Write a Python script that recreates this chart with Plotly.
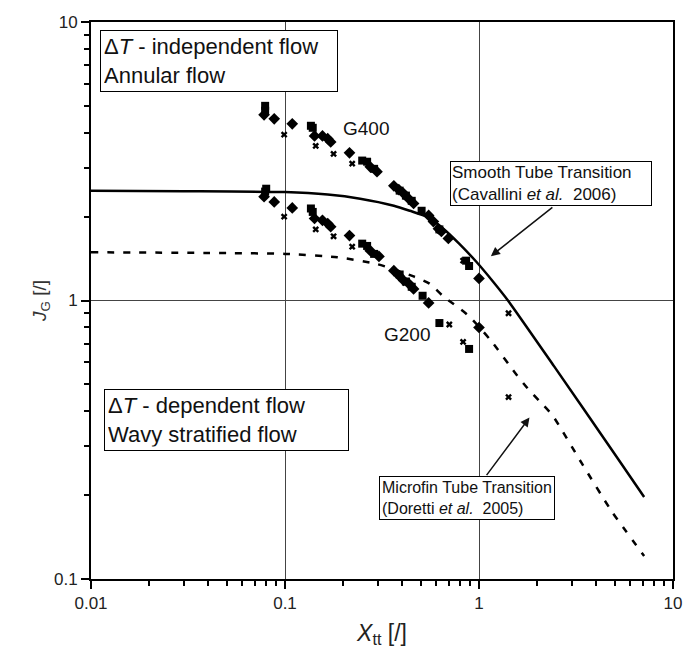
import plotly.graph_objects as go

# ---- data ----
smooth_x = [0.01, 0.03, 0.1, 0.166, 0.244, 0.364, 0.44, 0.537, 0.655, 0.79, 0.966, 1.18, 1.41, 2.44, 5.17, 7.1]
smooth_y = [2.48, 2.47, 2.45, 2.40, 2.32, 2.19, 2.10, 2.0, 1.81, 1.60, 1.38, 1.17, 1.0, 0.58, 0.272, 0.197]

microfin_x = [0.01, 0.05, 0.1, 0.186, 0.30, 0.46, 0.556, 0.65, 0.879, 1.15, 1.54, 1.78, 2.05, 2.39, 3.39, 4.83, 7.1]
microfin_y = [1.49, 1.48, 1.47, 1.43, 1.35, 1.22, 1.15, 1.04, 0.884, 0.719, 0.548, 0.484, 0.435, 0.387, 0.26, 0.175, 0.121]

g400_sq_x = [0.079, 0.079, 0.136, 0.139, 0.25, 0.265, 0.288, 0.39, 0.42, 0.45, 0.506, 0.625, 0.858, 0.889]
g400_sq_y = [5.0, 4.8, 4.24, 4.17, 3.18, 3.15, 2.97, 2.48, 2.38, 2.28, 2.10, 1.80, 1.39, 1.33]
g400_di_x = [0.078, 0.088, 0.109, 0.142, 0.156, 0.166, 0.172, 0.215, 0.275, 0.298, 0.364, 0.386, 0.409, 0.434, 0.46, 0.55, 0.582, 0.618, 0.64, 0.695, 1.0]
g400_di_y = [4.64, 4.49, 4.31, 3.90, 3.90, 3.81, 3.71, 3.39, 3.02, 2.90, 2.58, 2.50, 2.42, 2.32, 2.23, 2.02, 1.92, 1.81, 1.77, 1.67, 1.20]
g400_x_x = [0.099, 0.144, 0.178, 0.222, 0.828, 1.42]
g400_x_y = [3.94, 3.59, 3.36, 3.10, 1.39, 0.90]

g200_sq_x = [0.080, 0.079, 0.136, 0.139, 0.25, 0.265, 0.288, 0.39, 0.42, 0.45, 0.512, 0.625, 0.889]
g200_sq_y = [2.52, 2.46, 2.14, 2.08, 1.60, 1.57, 1.47, 1.24, 1.17, 1.12, 1.04, 0.83, 0.67]
g200_di_x = [0.078, 0.088, 0.109, 0.142, 0.156, 0.166, 0.172, 0.215, 0.275, 0.305, 0.364, 0.386, 0.409, 0.434, 0.46, 0.55, 1.0]
g200_di_y = [2.36, 2.26, 2.15, 1.97, 1.94, 1.89, 1.84, 1.71, 1.51, 1.44, 1.28, 1.23, 1.18, 1.15, 1.10, 0.98, 0.80]
g200_x_x = [0.099, 0.144, 0.178, 0.222, 0.703, 0.828, 1.42]
g200_x_y = [2.0, 1.80, 1.70, 1.56, 0.82, 0.71, 0.45]

x_tickvals = [0.01, 0.1, 1, 10]
x_ticktext = ["0.01", "0.1", "1", "10"]
y_tickvals = [0.1, 1, 10]
y_ticktext = ["0.1", "1", "10"]
minor_x = [m * 10 ** e for e in (-2, -1, 0) for m in range(2, 10)]
minor_y = [m * 10 ** e for e in (-1, 0) for m in range(2, 10)]

FONT = "Liberation Sans, Arial, sans-serif"

L, R, T, B = 91, 15, 22, 73
W, H = 694, 654
PW, PH = W - L - R, H - T - B

def px(x):
    return (x - L) / PW

def py(y):
    return (H - B - y) / PH

fig = go.Figure()
fig.add_trace(go.Scatter(x=smooth_x, y=smooth_y, mode="lines",
                         line=dict(color="black", width=2.5, shape="spline", smoothing=0.6),
                         showlegend=False))
fig.add_trace(go.Scatter(x=microfin_x, y=microfin_y, mode="lines",
                         line=dict(color="black", width=2.5, dash="7px,9px", shape="spline", smoothing=0.6),
                         showlegend=False))

for xs, ys in [(g400_di_x, g400_di_y), (g200_di_x, g200_di_y)]:
    fig.add_trace(go.Scatter(x=xs, y=ys, mode="markers", showlegend=False,
                             marker=dict(symbol="diamond", size=9, color="black")))
for xs, ys in [(g400_sq_x, g400_sq_y), (g200_sq_x, g200_sq_y)]:
    fig.add_trace(go.Scatter(x=xs, y=ys, mode="markers", showlegend=False,
                             marker=dict(symbol="square", size=8, color="black")))
for xs, ys in [(g400_x_x, g400_x_y), (g200_x_x, g200_x_y)]:
    fig.add_trace(go.Scatter(x=xs, y=ys, mode="markers", showlegend=False,
                             marker=dict(symbol="x", size=6, color="black")))

# invisible helper traces so the minor-tick overlay axes are drawn
fig.add_trace(go.Scatter(x=[1], y=[1], xaxis="x2", yaxis="y", mode="markers",
                         marker=dict(opacity=0), showlegend=False, hoverinfo="skip"))
fig.add_trace(go.Scatter(x=[1], y=[1], xaxis="x", yaxis="y2", mode="markers",
                         marker=dict(opacity=0), showlegend=False, hoverinfo="skip"))

fig.update_layout(
    template="simple_white",
    width=W, height=H, margin=dict(l=L, r=R, t=T, b=B),
    showlegend=False,
    xaxis=dict(type="log", range=[-2, 1], tickmode="array",
               tickvals=x_tickvals, ticktext=x_ticktext,
               ticks="outside", ticklen=8, tickwidth=2, tickcolor="black",
               showline=True, linecolor="black", linewidth=2, mirror=True,
               showgrid=True, gridcolor="#444", gridwidth=1, zeroline=False,
               tickfont=dict(family=FONT, size=17, color="#222"),
               title=dict(text="<i>X</i><sub>tt</sub> [/]",
                          font=dict(family=FONT, size=23, color="#222"), standoff=12)),
    yaxis=dict(type="log", range=[-1, 1], tickmode="array",
               tickvals=y_tickvals, ticktext=y_ticktext,
               ticks="outside", ticklen=8, tickwidth=2, tickcolor="black",
               showline=True, linecolor="black", linewidth=2, mirror=True,
               showgrid=True, gridcolor="#444", gridwidth=1, zeroline=False,
               tickfont=dict(family=FONT, size=17, color="#222"),
               title=dict(text="<i>J</i><sub>G</sub> [/]",
                          font=dict(family=FONT, size=19, color="#333"), standoff=2)),
    xaxis2=dict(type="log", range=[-2, 1], overlaying="x", anchor="y", side="bottom",
                tickmode="array", tickvals=minor_x, ticktext=[""] * len(minor_x),
                ticks="outside", ticklen=6, tickwidth=2, tickcolor="black",
                showgrid=False, showline=False, zeroline=False),
    yaxis2=dict(type="log", range=[-1, 1], overlaying="y", anchor="x", side="left",
                tickmode="array", tickvals=minor_y, ticktext=[""] * len(minor_y),
                ticks="outside", ticklen=6, tickwidth=2, tickcolor="black",
                showgrid=False, showline=False, zeroline=False),
)

ann = []
ann.append(dict(xref="paper", yref="paper", x=px(100), y=py(30), xanchor="left", yanchor="top",
                text="Δ<i>T</i> - independent flow<br>Annular flow", align="left", showarrow=False,
                font=dict(family=FONT, size=22, color="#111"),
                bordercolor="black", borderwidth=1, borderpad=3, bgcolor="white", width=230))
ann.append(dict(xref="paper", yref="paper", x=px(104), y=py(390), xanchor="left", yanchor="top",
                text="Δ<i>T</i> - dependent flow<br>Wavy stratified flow", align="left", showarrow=False,
                font=dict(family=FONT, size=22, color="#111"),
                bordercolor="black", borderwidth=1, borderpad=3, bgcolor="white", width=237))
ann.append(dict(xref="paper", yref="paper", x=px(454), y=py(161), xanchor="left", yanchor="top",
                text="Smooth Tube Transition<br>(Cavallini <i>et al.</i>  2006)", align="left",
                showarrow=False, font=dict(family=FONT, size=17, color="#111"),
                bordercolor="black", borderwidth=1, borderpad=1, bgcolor="white", width=198))
ann.append(dict(xref="paper", yref="paper", x=px(560), y=py(478), xanchor="right", yanchor="top",
                text="Microfin Tube Transition<br>(Doretti <i>et al.</i>  2005)", align="left",
                showarrow=False, font=dict(family=FONT, size=16, color="#111"),
                bordercolor="black", borderwidth=1, borderpad=2, bgcolor="white"))
ann.append(dict(xref="paper", yref="paper", x=px(369), y=py(129), xanchor="center", yanchor="middle",
                text="G400", showarrow=False, font=dict(family=FONT, size=19, color="#111")))
ann.append(dict(xref="paper", yref="paper", x=px(410), y=py(336), xanchor="center", yanchor="middle",
                text="G200", showarrow=False, font=dict(family=FONT, size=19, color="#111")))
# arrows
ann.append(dict(xref="paper", yref="paper", x=px(495), y=py(257), ax=63, ay=-50, text="",
                showarrow=True, arrowhead=2, arrowsize=1.2, arrowwidth=1.5, arrowcolor="#111"))
ann.append(dict(xref="paper", yref="paper", x=px(534), y=py(419), ax=-44, ay=59, text="",
                showarrow=True, arrowhead=2, arrowsize=1.2, arrowwidth=1.5, arrowcolor="#111"))

fig.update_layout(font=dict(family=FONT, color="#222"), annotations=ann)

fig.write_html("out.html")
